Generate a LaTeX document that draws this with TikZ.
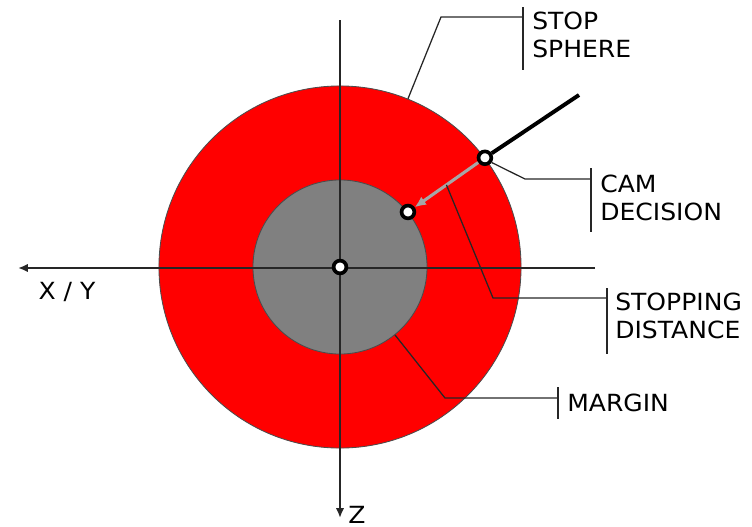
\documentclass[tikz,border=0pt]{standalone}
\usepackage{fontspec}
\setmainfont{DejaVu Sans}[FakeStretch=1.06]
\usetikzlibrary{arrows.meta}

\begin{document}
\begin{tikzpicture}[
    x=0.025cm, y=-0.025cm,
    >={Latex[length=7pt,width=6pt]},
    axisline/.style={draw=black!85, line width=1.4pt},
    sphere/.style={circle, draw=black!70, line width=0.6pt, inner sep=0pt},
    markpoint/.style={circle, draw=black, fill=white, line width=2.6pt, inner sep=0pt, minimum size=0.32cm},
    leader/.style={draw=black!85, line width=0.9pt},
    labeltext/.style={anchor=west, align=left, inner sep=0pt, font=\fontsize{16.8pt}{19.9pt}\selectfont},
]
\useasboundingbox (0,0) rectangle (752,527);

% spheres
\node[sphere, fill=red, minimum size=9.05cm] (stopsphere) at (340,267) {};
\node[sphere, fill=black!50, minimum size=4.35cm] (stopdist) at (340,267) {};

% axes
\coordinate (xright) at (595,268);
\coordinate (xleft) at (18,268);
\coordinate (ztop) at (340,20);
\coordinate (zbottom) at (340,518);
\draw[axisline, ->] (xright) -- (xleft);
\draw[axisline, ->] (ztop) -- (zbottom);
\node[anchor=north, inner sep=0pt, font=\fontsize{16.8pt}{19.9pt}\selectfont] (xylabel) at (67,282) {X / Y};
\node[anchor=base west, inner sep=0pt, font=\fontsize{16.8pt}{19.9pt}\selectfont] (zlabel) at (348,523) {Z};

% points and trajectory
\node[markpoint] (origin) at (340,267) {};
\node[markpoint] (campoint) at (stopsphere.37) {};
\node[markpoint] (stoppoint) at (stopdist.39) {};
\coordinate (trajend) at (579,95);
\draw[black, line width=2.8pt] (campoint) -- (trajend);
\draw[black!35, line width=2.2pt, -{Latex[length=8pt,width=7pt]}] (campoint) -- coordinate[pos=0.5] (arrowmid) (stoppoint);

% labels
\node[labeltext] (stoplabel) at (532,35) {STOP\\SPHERE};
\node[labeltext] (camlabel) at (600,198) {CAM\\DECISION};
\node[labeltext] (distlabel) at (615,316) {STOPPING\\DISTANCE};
\node[labeltext] (marginlabel) at (567,403) {MARGIN};

% leader lines
\draw[leader] (stopsphere.68.6) -- (441,17) -- (523,17);
\draw[leader] (523,7) -- (523,70);
\draw[leader] (campoint.-35) -- (525,179) -- (591,179);
\draw[leader] (591,168) -- (591,232);
\draw[leader] (arrowmid) -- (493,298) -- (607,298);
\draw[leader] (607,288) -- (607,354);
\draw[leader] (stopdist.-51) -- (445,398) -- (558,398);
\draw[leader] (558,387) -- (558,419);

\end{tikzpicture}
\end{document}
